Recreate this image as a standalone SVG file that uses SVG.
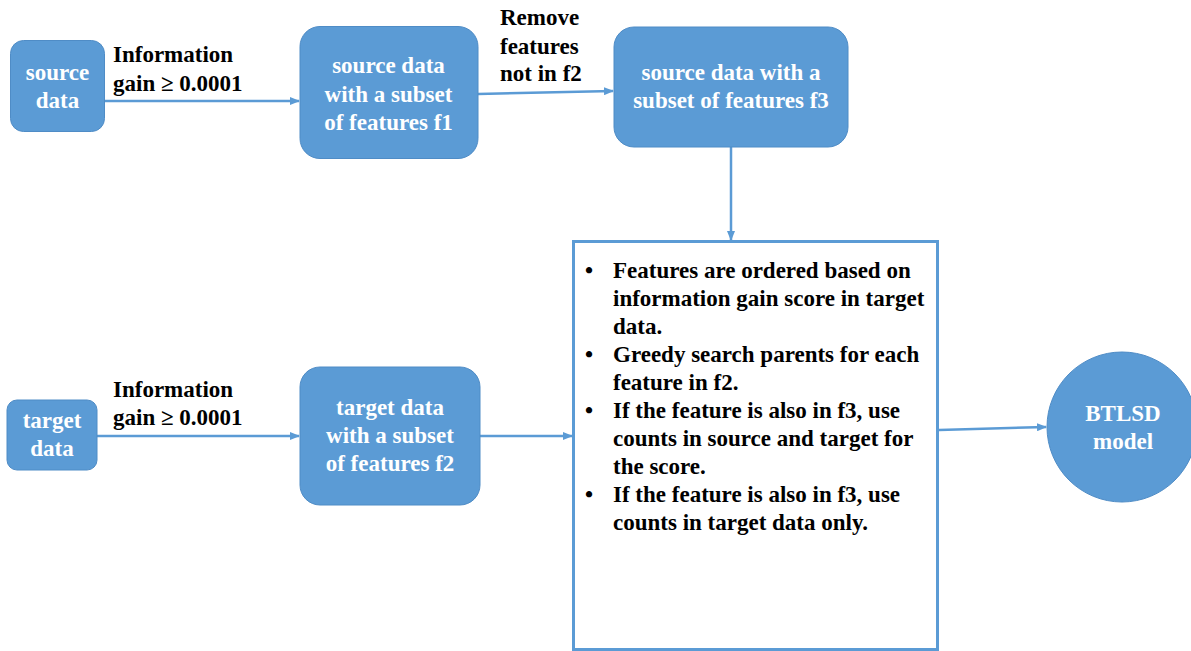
<svg xmlns="http://www.w3.org/2000/svg" width="1191" height="651" viewBox="0 0 1191 651">
<defs>
<style>
.node{fill:#5B9BD5;stroke:#4F8CC6;stroke-width:1}
.wt{font-family:"Liberation Serif","Times New Roman",serif;font-weight:bold;fill:#fff;text-anchor:middle;font-size:23px}
.bt{font-family:"Liberation Serif","Times New Roman",serif;font-weight:bold;fill:#000;font-size:23px}
.edge{stroke:#5B9BD5;stroke-width:2.5;fill:none}
</style>
<marker id="ah" markerWidth="10" markerHeight="8" refX="9" refY="4" orient="auto" markerUnits="userSpaceOnUse">
<path d="M0,0 L10,4 L0,8 z" fill="#5B9BD5"/>
</marker>
</defs>
<rect width="1191" height="651" fill="#fff"/>

<g id="connectors">
<line class="edge" x1="105" y1="101" x2="299" y2="101" marker-end="url(#ah)"/>
<line class="edge" x1="478" y1="94" x2="613" y2="91" marker-end="url(#ah)"/>
<line class="edge" x1="731" y1="147" x2="731" y2="240" marker-end="url(#ah)"/>
<line class="edge" x1="97" y1="436" x2="299" y2="436" marker-end="url(#ah)"/>
<line class="edge" x1="480" y1="436" x2="572" y2="436" marker-end="url(#ah)"/>
<line class="edge" x1="939" y1="430" x2="1046" y2="427" marker-end="url(#ah)"/>
</g>

<g id="edge-labels">
<text class="bt" x="113" y="62">Information</text>
<text class="bt" x="113" y="91">gain ≥ 0.0001</text>
<text class="bt" x="500" y="25">Remove</text>
<text class="bt" x="500" y="54">features</text>
<text class="bt" x="500" y="81">not in f2</text>
<text class="bt" x="113" y="397">Information</text>
<text class="bt" x="113" y="425">gain ≥ 0.0001</text>
</g>

<g id="source-data">
<rect class="node" x="10.5" y="40.5" width="94" height="91" rx="13"/>
<text class="wt" x="57.5" y="80">source</text>
<text class="wt" x="57.5" y="108">data</text>
</g>

<g id="source-f1">
<rect class="node" x="300" y="26.5" width="178" height="132" rx="20"/>
<text class="wt" x="388.5" y="73">source data</text>
<text class="wt" x="388.5" y="102">with a subset</text>
<text class="wt" x="388.5" y="130">of features f1</text>
</g>

<g id="source-f3">
<rect class="node" x="614" y="27" width="234" height="120" rx="20"/>
<text class="wt" x="731" y="80">source data with a</text>
<text class="wt" x="731" y="108">subset of features f3</text>
</g>

<g id="target-data">
<rect class="node" x="7" y="400" width="90" height="70" rx="10"/>
<text class="wt" x="52" y="428">target</text>
<text class="wt" x="52" y="456">data</text>
</g>

<g id="target-f2">
<rect class="node" x="300" y="367" width="180" height="138" rx="20"/>
<text class="wt" x="390" y="415">target data</text>
<text class="wt" x="390" y="443">with a subset</text>
<text class="wt" x="390" y="471">of features f2</text>
</g>

<g id="process-box">
<rect x="573.5" y="241.5" width="364" height="408" fill="#fff" stroke="#5B9BD5" stroke-width="3"/>
<g class="bt">
<text x="585" y="278">•</text>
<text x="613" y="278">Features are ordered based on</text>
<text x="613" y="306">information gain score in target</text>
<text x="613" y="334">data.</text>
<text x="585" y="362">•</text>
<text x="613" y="362">Greedy search parents for each</text>
<text x="613" y="390">feature in f2.</text>
<text x="585" y="418">•</text>
<text x="613" y="418">If the feature is also in f3, use</text>
<text x="613" y="446">counts in source and target for</text>
<text x="613" y="474">the score.</text>
<text x="585" y="502">•</text>
<text x="613" y="502">If the feature is also in f3, use</text>
<text x="613" y="530">counts in target data only.</text>
</g>
</g>

<g id="btlsd-model">
<circle class="node" cx="1122" cy="427" r="75"/>
<text class="wt" font-size="22.5" x="1123" y="421">BTLSD</text>
<text class="wt" font-size="22.5" x="1123" y="449">model</text>
</g>
</svg>
